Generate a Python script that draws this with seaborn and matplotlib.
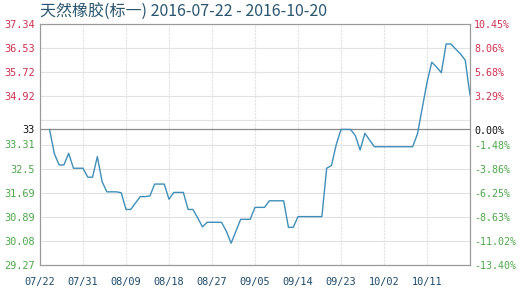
import numpy as np
import pandas as pd
import matplotlib
matplotlib.use("Agg")
import matplotlib.pyplot as plt
import seaborn as sns

# ---------------- data ----------------
title = "天然橡胶(标一) 2016-07-22 - 2016-10-20"
axis_start = "2016-07-22"
axis_end = "2016-10-20"
data_start = "2016-07-24"
prices = [
    33.81, 33.00, 32.62, 32.62, 33.01, 32.51, 32.51, 32.51, 32.21, 32.21,   # 07/24-08/02
    32.90, 32.06, 31.72, 31.72, 31.72, 31.69, 31.13, 31.13, 31.35, 31.56,   # 08/03-08/12
    31.56, 31.58, 31.98, 31.98, 31.98, 31.47, 31.70, 31.70, 31.70, 31.13,   # 08/13-08/22
    31.13, 30.85, 30.55, 30.70, 30.70, 30.70, 30.70, 30.40, 30.00, 30.40,   # 08/23-09/01
    30.80, 30.80, 30.80, 31.20, 31.20, 31.20, 31.42, 31.42, 31.42, 31.42,   # 09/02-09/11
    30.53, 30.53, 30.89, 30.89, 30.89, 30.89, 30.89, 30.89, 32.51, 32.60,   # 09/12-09/21
    33.30, 33.81, 33.81, 33.81, 33.60, 33.12, 33.68, 33.45, 33.23, 33.23,   # 09/22-10/01
    33.23, 33.23, 33.23, 33.23, 33.23, 33.23, 33.23, 33.66, 34.52, 35.38,   # 10/02-10/11
    36.06, 35.90, 35.71, 36.67, 36.67, 36.50, 36.34, 36.13, 34.96,          # 10/12-10/20
]
base_price = 33.81
price_min, price_max = 29.27, 37.34
left_ticks = [37.34, 36.53, 35.72, 34.92, 33.81, 33.31, 32.50, 31.69, 30.89, 30.08, 29.27]
left_labels = ["37.34", "36.53", "35.72", "34.92", "33", "33.31", "32.5", "31.69", "30.89", "30.08", "29.27"]
pct_min, pct_max = -13.40, 10.45
pct_ticks = [10.45, 8.06, 5.68, 3.29, 0.00, -1.48, -3.86, -6.25, -8.63, -11.02, -13.40]
pct_labels = ["10.45%", "8.06%", "5.68%", "3.29%", "0.00%", "-1.48%", "-3.86%", "-6.25%", "-8.63%", "-11.02%", "-13.40%"]
x_tick_labels = ["07/22", "07/31", "08/09", "08/18", "08/27", "09/05", "09/14", "09/23", "10/02", "10/11"]

df = pd.DataFrame({"date": pd.date_range(data_start, periods=len(prices), freq="D"),
                   "price": prices})

# ---------------- style ----------------
sns.set_theme(style="white")
plt.rcParams["font.family"] = ["Noto Sans CJK SC", "DejaVu Sans"]

RED = "#cc3350"
GREEN = "#4ea64a"
BLACK = "#111111"
NAVY = "#1d4a6e"
LINE = "#3f8fba"
GRID = "#e2e2e2"
SPINE = "#9a9a9a"
MONO = ["DejaVu Sans Mono"]

fig = plt.figure(figsize=(5.2, 2.92), dpi=100)
ax = fig.add_axes([40 / 520, 1 - 265 / 292, 430 / 520, 241 / 292])

x0 = pd.Timestamp(axis_start)
x1 = pd.Timestamp(axis_end)
ax.set_xlim(x0, x1)
ax.set_ylim(price_min, price_max)

# grid
for y in np.linspace(price_min, price_max, 11):
    ax.axhline(y, color=GRID, lw=0.8, zorder=0)
tick_dates = [x0 + pd.Timedelta(days=9 * i) for i in range(len(x_tick_labels))]
for d in tick_dates[1:]:
    ax.axvline(d, color=GRID, lw=0.8, ls=(0, (2, 1)), zorder=0)
ax.axhline(base_price, color="#8a8a8a", lw=0.9, zorder=1)

sns.lineplot(data=df, x="date", y="price", ax=ax, color=LINE, lw=1.0, zorder=3)

ax.set_xlabel("")
ax.set_ylabel("")
ax.set_xticks(tick_dates)
ax.set_xticklabels(x_tick_labels, family=MONO, fontsize=7.4, color=NAVY)
ax.set_yticks(left_ticks)
ax.set_yticklabels(left_labels, family=MONO, fontsize=7.4)
for lbl, v in zip(ax.get_yticklabels(), left_ticks):
    lbl.set_color(RED if v > base_price else (BLACK if v == base_price else GREEN))
ax.tick_params(axis="both", length=0)
ax.tick_params(axis="y", pad=4)
ax.tick_params(axis="x", pad=9)
for s in ax.spines.values():
    s.set_color(SPINE)
    s.set_linewidth(0.8)

ax2 = ax.twinx()
ax2.set_ylim(pct_min, pct_max)
ax2.set_yticks(pct_ticks)
ax2.set_yticklabels(pct_labels, family=MONO, fontsize=7.2)
for lbl, v in zip(ax2.get_yticklabels(), pct_ticks):
    lbl.set_color(RED if v > 0 else (BLACK if v == 0 else GREEN))
ax2.tick_params(axis="y", length=0, pad=3)
for s in ax2.spines.values():
    s.set_color(SPINE)
    s.set_linewidth(0.8)
ax2.grid(False)

fig.text(40 / 520, 1 - 12 / 292, title, fontsize=11.5, color="#2a5570",
         ha="left", va="center")

fig.savefig("out.png", dpi=100)
